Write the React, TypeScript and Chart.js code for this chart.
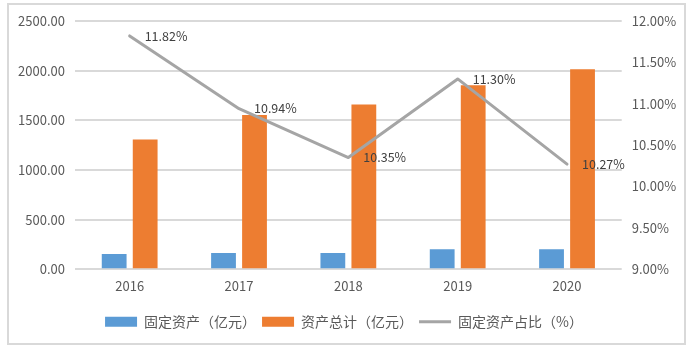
import React, { useEffect, useRef } from "react";
import { Chart, registerables } from "chart.js";

Chart.register(...registerables);

const years = ["2016", "2017", "2018", "2019", "2020"];
const fixedAssets = [153, 163, 163, 203, 203];
const totalAssets = [1306, 1553, 1660, 1853, 2013];
const ratioPct = [11.82, 10.94, 10.35, 11.3, 10.27];
const seriesNames = ["固定资产（亿元）", "资产总计（亿元）", "固定资产占比（%）"];
const leftAxis = { min: 0, max: 2500, step: 500 };
const rightAxis = { min: 9, max: 12, step: 0.5 };

const FONT = '"Noto Sans CJK SC", "Noto Sans", sans-serif';

const ratioLabels = {
  id: "ratioLabels",
  afterDatasetsDraw(chart: any) {
    const meta = chart.getDatasetMeta(2);
    const ctx = chart.ctx;
    ctx.save();
    ctx.font = `12.5px ${FONT}`;
    ctx.fillStyle = "#404040";
    ctx.textAlign = "left";
    ctx.textBaseline = "middle";
    meta.data.forEach((pt: any, i: number) => {
      ctx.fillText(ratioPct[i].toFixed(2) + "%", pt.x + 15, pt.y);
    });
    ctx.restore();
  },
};

export default function App() {
  const ref = useRef<HTMLCanvasElement>(null);

  useEffect(() => {
    if (!ref.current) return;
    const chart = new Chart(ref.current, {
      type: "bar",
      data: {
        labels: years,
        datasets: [
          {
            type: "bar",
            label: seriesNames[0],
            data: fixedAssets,
            backgroundColor: "#5b9bd5",
            yAxisID: "y",
            categoryPercentage: 0.567,
            barPercentage: 0.8,
          },
          {
            type: "bar",
            label: seriesNames[1],
            data: totalAssets,
            backgroundColor: "#ed7d31",
            yAxisID: "y",
            categoryPercentage: 0.567,
            barPercentage: 0.8,
          },
          {
            type: "line",
            label: seriesNames[2],
            data: ratioPct,
            borderColor: "#a5a5a5",
            backgroundColor: "#a5a5a5",
            borderWidth: 3,
            pointRadius: 0,
            tension: 0,
            borderCapStyle: "round",
            borderJoinStyle: "round",
            yAxisID: "y1",
            order: -1,
          } as any,
        ],
      },
      options: {
        responsive: false,
        animation: false,
        events: [],
        layout: { padding: { top: 21, right: 9, bottom: 13.3, left: 0 } },
        scales: {
          x: {
            grid: { display: false, drawTicks: false },
            border: { display: false },
            ticks: { color: "#595959", font: { family: FONT, size: 13 }, padding: 9 },
            afterFit: (s: any) => {
              s.height = 39.4;
            },
          },
          y: {
            position: "left",
            min: leftAxis.min,
            max: leftAxis.max,
            ticks: {
              stepSize: leftAxis.step,
              color: "#595959",
              font: { family: FONT, size: 13 },
              padding: 10,
              callback: (v: any) => Number(v).toFixed(2),
            },
            grid: { color: "#d9d9d9", lineWidth: 2, drawTicks: false },
            border: { display: false },
            afterFit: (s: any) => {
              s.width = 75;
            },
          },
          y1: {
            position: "right",
            min: rightAxis.min,
            max: rightAxis.max,
            ticks: {
              stepSize: rightAxis.step,
              color: "#595959",
              font: { family: FONT, size: 13 },
              padding: 10,
              callback: (v: any) => Number(v).toFixed(2) + "%",
            },
            grid: { display: false, drawTicks: false },
            border: { display: false },
            afterFit: (s: any) => {
              s.width = 66.3;
            },
          },
        },
        plugins: {
          tooltip: { enabled: false },
          legend: {
            position: "bottom",
            labels: {
              usePointStyle: true,
              pointStyleWidth: 32,
              boxHeight: 10,
              padding: 6,
              color: "#595959",
              font: { family: FONT, size: 14 },
              sort: (a: any, b: any) => a.datasetIndex - b.datasetIndex,
              generateLabels: (c: any) => {
                const items = (Chart.defaults.plugins.legend.labels as any).generateLabels(c);
                return items.map((it: any) =>
                  it.datasetIndex === 2
                    ? { ...it, pointStyle: "line", strokeStyle: "#a5a5a5", lineWidth: 3, lineCap: "butt" }
                    : { ...it, pointStyle: "rect", lineWidth: 0 }
                );
              },
            },
          },
        },
      },
      plugins: [ratioLabels],
    } as any);
    return () => chart.destroy();
  }, []);

  return (
    <div style={{ position: "fixed", left: 0, top: 0, width: 697, height: 352, background: "#fff" }}>
      <div
        style={{
          position: "absolute",
          left: 7,
          top: 3,
          width: 675,
          height: 338,
          border: "2px solid #d9d9d9",
        }}
      />
      <canvas
        ref={ref}
        width={697}
        height={352}
        style={{ position: "absolute", left: 0, top: 0, width: 697, height: 352 }}
      />
    </div>
  );
}
